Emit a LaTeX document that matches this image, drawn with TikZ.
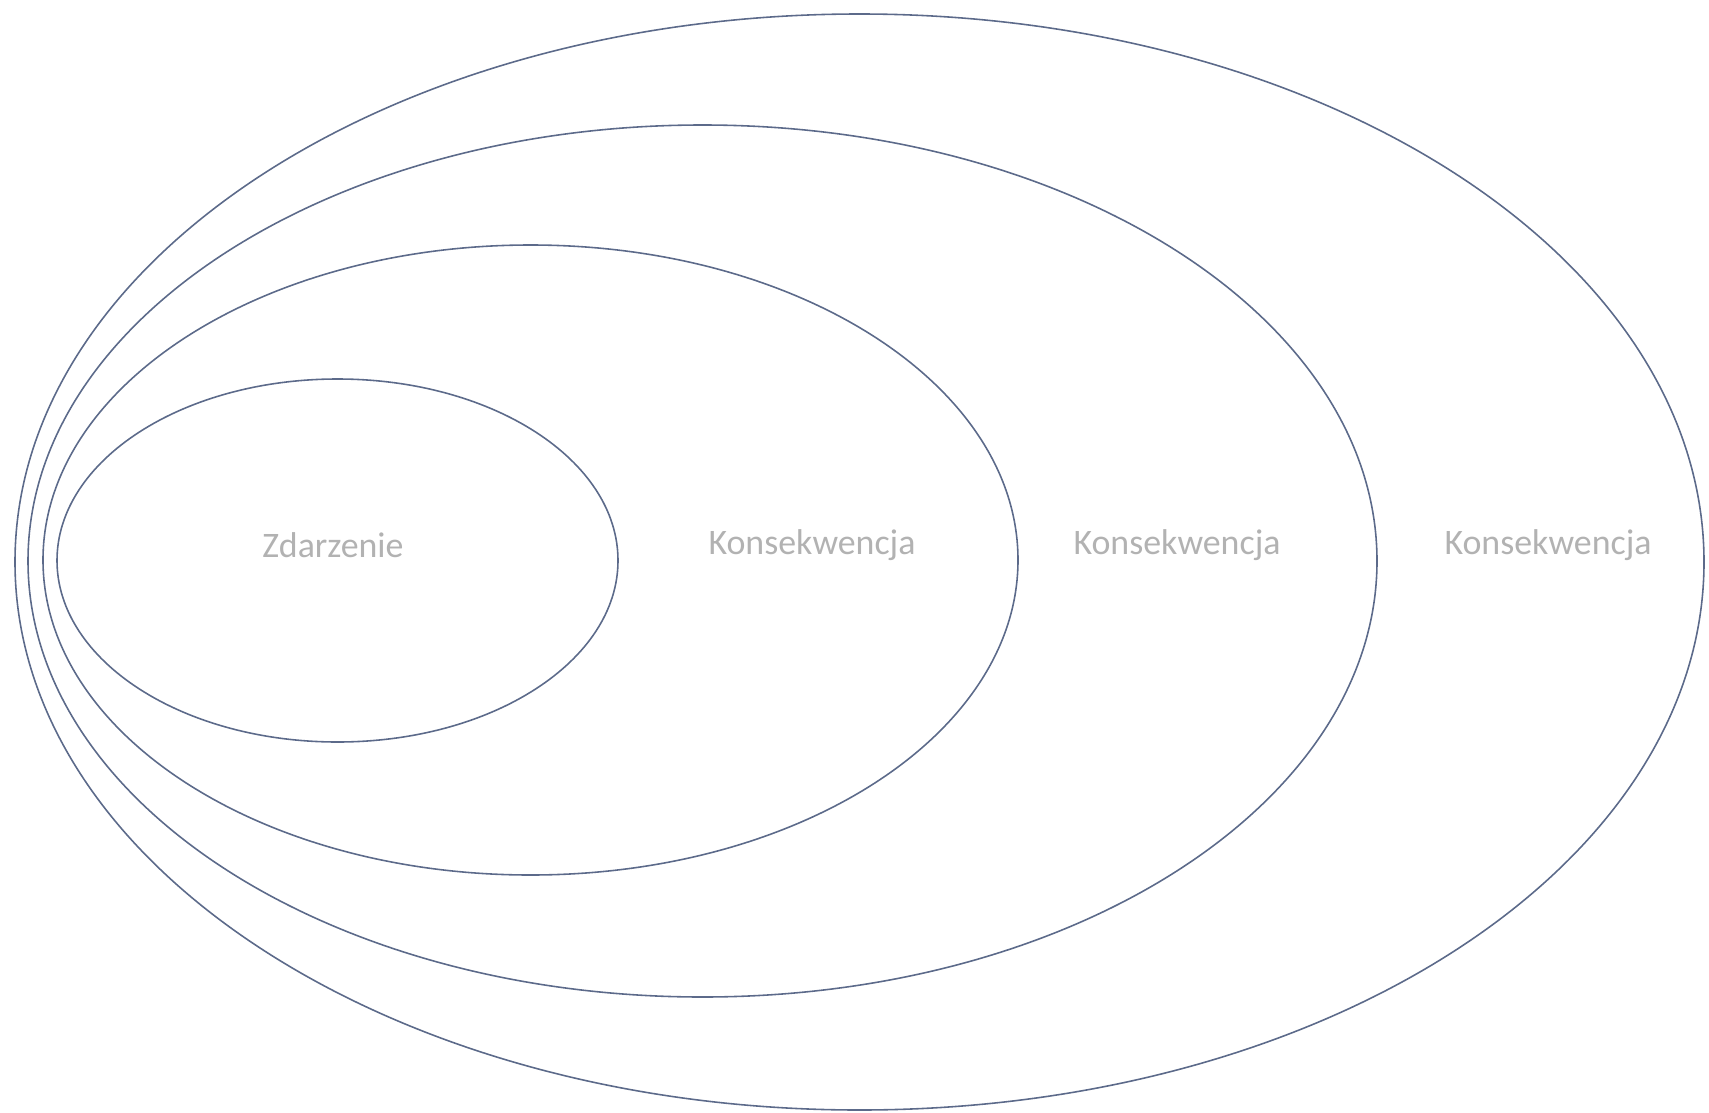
\documentclass[tikz,border=0pt]{standalone}
\usepackage{fontspec}
\setmainfont{Carlito}
\usepackage{xcolor}
\usepackage{tikz}

\definecolor{ringline}{RGB}{92,106,138}
\definecolor{labelgray}{RGB}{178,178,178}

\begin{document}
\begin{tikzpicture}[x=0.01cm,y=-0.01cm,
  ring/.style={draw=ringline, line width=0.45pt},
  lbl/.style={text=labelgray, font=\fontsize{10.2}{12}\selectfont, inner sep=0pt}]
\useasboundingbox (0,0) rectangle (1709,1112);

\draw[ring] (859.5,562) ellipse [x radius=844.5, y radius=548];
\draw[ring] (702.5,561) ellipse [x radius=674.5, y radius=436];
\draw[ring] (530.5,560) ellipse [x radius=487.5, y radius=315];
\draw[ring] (337.5,560.5) ellipse [x radius=280.5, y radius=181.5];

\node[lbl] (event) at (333,545) {Zdarzenie};
\node[lbl] (cons1) at (812,545) {Konsekwencja};
\node[lbl] (cons2) at (1177,545) {Konsekwencja};
\node[lbl] (cons3) at (1548,545) {Konsekwencja};
\end{tikzpicture}
\end{document}
